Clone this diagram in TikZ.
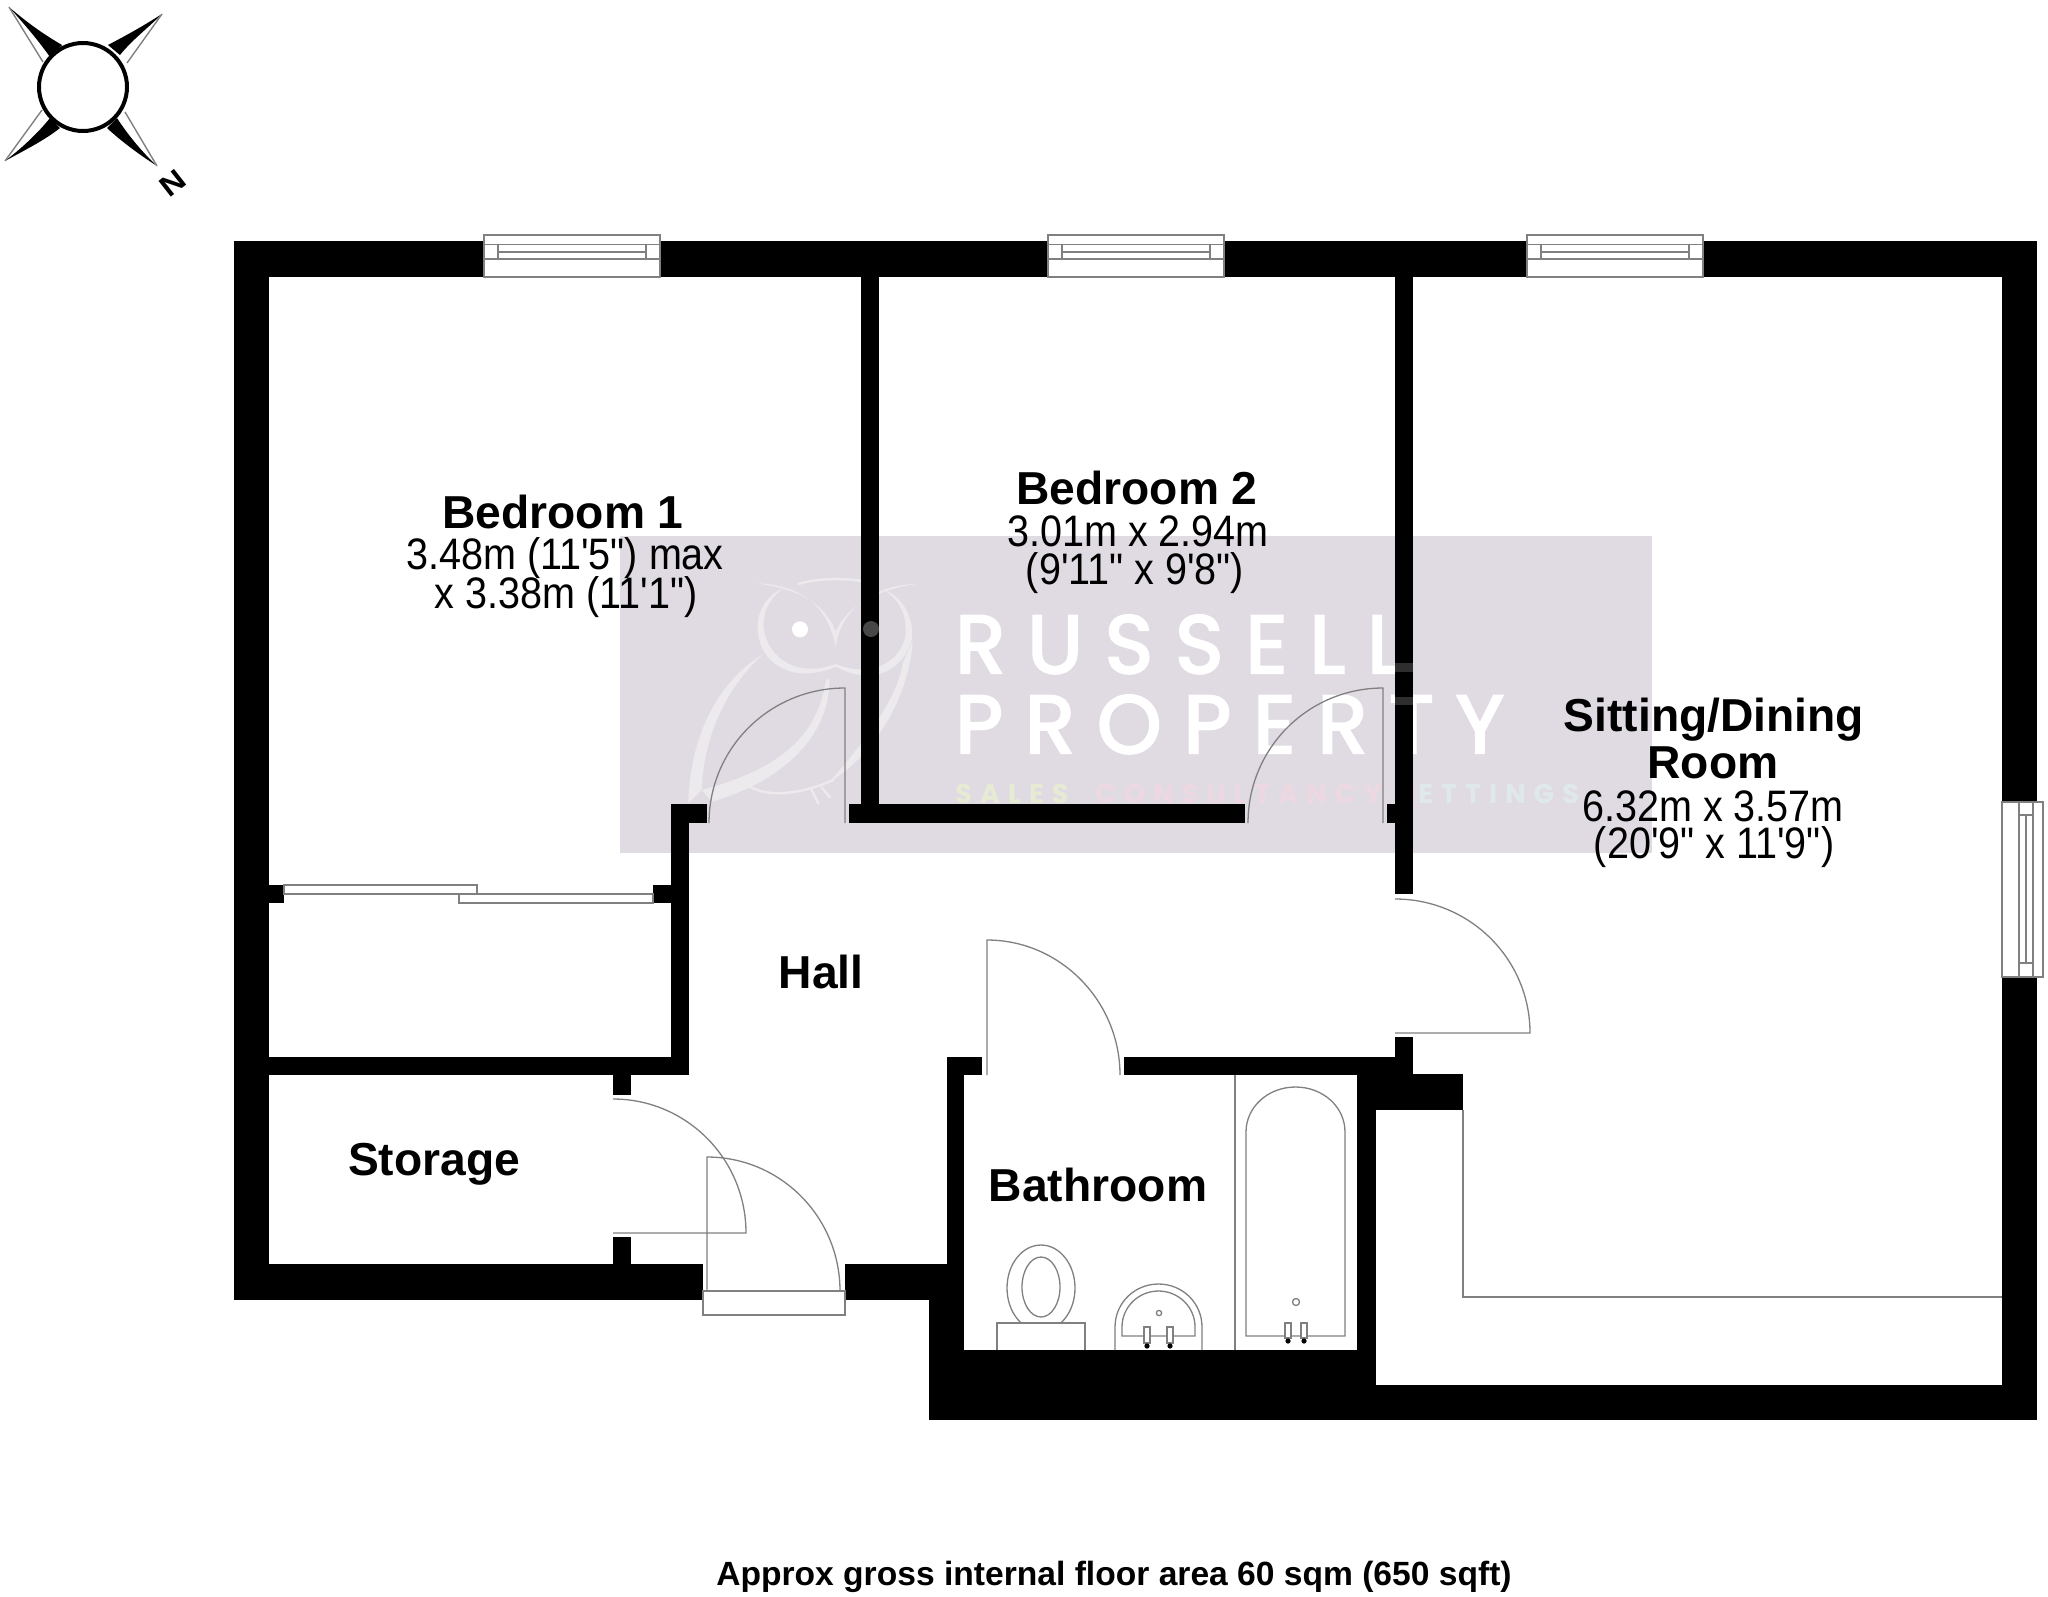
\documentclass[tikz,border=0pt]{standalone}
\usepackage{fontspec}
\newfontfamily\labfont{Liberation Sans}
\newfontfamily\wmfont{Poppins}[LetterSpace=27,FakeBold=3]
\newfontfamily\wmsmall{Poppins}[LetterSpace=30]
\definecolor{wmbg}{HTML}{E0DBE2}
\definecolor{owl}{HTML}{ECEAED}
\definecolor{finegrey}{HTML}{808080}
\definecolor{wmyellow}{HTML}{E8EBD3}
\definecolor{wmpink}{HTML}{EDD8E2}
\definecolor{wmcyan}{HTML}{DFE9EC}
\tikzset{
  wall/.style={fill=black,draw=none},
  fine/.style={draw=finegrey,line width=0.65pt},
  fitting/.style={draw=finegrey,line width=0.65pt,fill=white},
  owlstroke/.style={draw=owl,line cap=round,fill=none},
  owlfill/.style={fill=owl,draw=none},
  title/.style={font=\labfont\bfseries\fontsize{23.1}{26}\selectfont,inner sep=0pt},
  dims/.style={font=\labfont\fontsize{20.6}{24}\selectfont,inner sep=0pt,xscale=0.96,yscale=1.07},
  wmbig/.style={font=\wmfont\fontsize{41}{45}\selectfont,text=white,inner sep=0pt,anchor=base west},
  wmtiny/.style={font=\wmsmall\bfseries\fontsize{13.5}{16}\selectfont,inner sep=0pt,anchor=base west},
}
\begin{document}
\begin{tikzpicture}[x=0.5pt,y=-0.5pt]
\path[use as bounding box,fill=white] (0,0) rectangle (2048,1596);

% watermark panel
\fill[wmbg] (620,536) rectangle (1652,853);

% owl (coordinates in 3x crop pixels)
\begin{scope}[shift={(670,560)},x=0.16667pt,y=-0.16667pt]
  \fill[owlfill] (260,70) .. controls (340,72) and (470,100) .. (497,262)
     .. controls (510,150) and (610,75) .. (738,72)
     .. controls (650,85) and (540,120) .. (497,215)
     .. controls (460,120) and (370,85) .. (260,70) -- cycle;
  \draw[owlstroke,line width=1.2pt] (385,72) .. controls (450,52) and (550,52) .. (615,72);
  \fill[owlfill] (340,85) .. controls (280,110) and (255,170) .. (265,225)
     .. controls (275,310) and (370,375) .. (497,320)
     .. controls (600,375) and (695,340) .. (725,240)
     .. controls (735,180) and (700,110) .. (640,88)
     .. controls (690,120) and (715,170) .. (705,235)
     .. controls (680,320) and (590,350) .. (497,312)
     .. controls (400,350) and (310,310) .. (285,225)
     .. controls (270,170) and (295,115) .. (340,85) -- cycle;
  \fill[owlfill] (280,282) .. controls (150,360) and (60,520) .. (55,730)
     -- (95,690) .. controls (100,530) and (170,380) .. (280,282) -- cycle;
  \fill[owlfill] (95,690) .. controls (280,640) and (440,560) .. (468,358)
     -- (478,358) .. controls (480,520) and (350,660) .. (125,725) -- cycle;
  \fill[owlfill] (728,240) .. controls (720,400) and (620,580) .. (480,665)
     .. controls (560,570) and (680,430) .. (698,310) -- cycle;
  \draw[owlstroke,line width=1.2pt] (240,680) .. controls (300,715) and (400,700) .. (490,660);
  \draw[owlstroke,line width=1.2pt] (425,690) -- (445,730) (455,682) -- (480,712);
  \fill[white] (390,208) circle[radius=24];
\end{scope}

% watermark words
\node[wmbig] (wmRussell) at (955,673) {RUSSELL};
\node[wmbig] (wmProperty) at (955,753) {PROPERTY};
\node[wmtiny,text=wmyellow] (wmSales) at (955,803) {SALES};
\node[wmtiny,text=wmpink] (wmConsult) at (1095,803) {CONSULTANCY};
\node[wmtiny,text=wmcyan] (wmLet) at (1397,803) {LETTINGS};

% walls
\fill[wall] (233.5,241) rectangle (2037,277);
\fill[wall] (233.5,241) rectangle (269,1300);
\fill[wall] (2002,241) rectangle (2037,802);
\fill[wall] (2002,977) rectangle (2037,1420);
\fill[wall] (233.5,1264) rectangle (703,1300);
\fill[wall] (845,1264) rectangle (947,1300);
\fill[wall] (269,1057) rectangle (689,1075);
\fill[wall] (671,804) rectangle (689,1075);
\fill[wall] (671,804) rectangle (707,823);
\fill[wall] (860.5,277) rectangle (879,823);
\fill[wall] (849,804) rectangle (1245,823);
\fill[wall] (1395,277) rectangle (1413,894);
\fill[wall] (1387,804) rectangle (1413,823);
\fill[wall] (613,1075) rectangle (631,1095);
\fill[wall] (613,1237) rectangle (631,1264);
\fill[wall] (269,885) rectangle (284,903);
\fill[wall] (653,885) rectangle (671,903);
\fill[wall] (947,1057) rectangle (982,1075);
\fill[wall] (947,1057) rectangle (964,1300);
\fill[wall] (1124,1057) rectangle (1395,1075);
\fill[wall] (1395,1037) rectangle (1413,1075);
\fill[wall] (1357,1057) rectangle (1376,1385);
\fill[wall] (1357,1074) rectangle (1463,1110);
\fill[wall] (929,1264) rectangle (964,1420);
\fill[wall] (929,1350) rectangle (1376,1420);
\fill[wall] (929,1385) rectangle (2037,1420);

% watermark showing faintly through the walls
\fill[black!82] (1395,663) rectangle (1413,672);
\fill[black!82] (1395,697) rectangle (1413,705);
\fill[black!72] (871,629) circle[radius=8];

% top windows
\foreach \xa/\xb in {484/660,1048/1224,1527/1703}{
  \fill[white] (\xa,235) rectangle (\xb,277);
  \draw[fine] (\xa,277) -- (\xa,235) -- (\xb,235) -- (\xb,277) -- cycle;
  \draw[fine] (\xa,244.5) -- (\xb,244.5) (\xa,259) -- (\xb,259);
  \draw[fine] (\xa+14,244.5) -- (\xa+14,259) (\xb-14,244.5) -- (\xb-14,259);
  \draw[fine] (\xa+14,252) -- (\xb-14,252);
}
% side window
\fill[white] (2002,802) rectangle (2043,977);
\draw[fine] (2002,802) rectangle (2043,977);
\draw[fine] (2019,802) -- (2019,977) (2033,802) -- (2033,977);
\draw[fine] (2019,815) -- (2033,815) (2019,963) -- (2033,963);
\draw[fine] (2026,815) -- (2026,963);

% wardrobe sliders
\draw[fitting] (284,885) rectangle (477,894);
\draw[fitting] (459,894) rectangle (653,903);

% doors
\draw[fine] (845,823) -- (845,688) .. controls (770,688) and (709,748) .. (709,823);
\draw[fine] (1383,823) -- (1383,688) .. controls (1308.4,688) and (1248,748) .. (1248,823);
\draw[fine] (1395,899) .. controls (1469.6,899) and (1530,959) .. (1530,1033) -- (1395,1033);
\draw[fine] (987,1075) -- (987,940) .. controls (1060.5,940) and (1120,1001.5) .. (1120,1075);
\draw[fine] (613,1099) .. controls (686.5,1099) and (746,1159) .. (746,1233) -- (613,1233);
\draw[fitting] (703,1291) rectangle (845,1315);
\draw[fine] (707,1291) -- (707,1157) .. controls (780.5,1157) and (840,1217) .. (840,1291);

% lower sitting room line
\draw[fine] (1463,1110) -- (1463,1297) -- (2002,1297);

% bathroom fittings
\draw[fine] (1235,1075) -- (1235,1350);
\draw[fine] (1246,1336) -- (1246,1132) .. controls (1246,1107) and (1268,1087) .. (1295.5,1087)
   .. controls (1323,1087) and (1345,1107) .. (1345,1132) -- (1345,1336) -- cycle;
\draw[fine] (1296,1302) circle[radius=3.5];
\foreach \x in {1288,1304}{
  \draw[fitting] (\x-3,1323) rectangle (\x+3,1338);
  \fill[black] (\x,1341) circle[radius=2.6];
}
\draw[fine] (1041,1288) circle[x radius=34,y radius=43];
\draw[fine] (1041,1287) circle[x radius=19,y radius=30];
\draw[fitting] (997,1350) -- (997,1323) -- (1085,1323) -- (1085,1350);
\fill[white] (998,1324) rectangle (1084,1350);
\draw[fine] (1115,1350) -- (1115,1327) .. controls (1115,1303) and (1134.5,1284) .. (1158.5,1284)
   .. controls (1182.5,1284) and (1202,1303) .. (1202,1327) -- (1202,1350);
\draw[fine] (1122,1336) -- (1122,1327) .. controls (1122,1307) and (1138.5,1291) .. (1158.5,1291)
   .. controls (1178.5,1291) and (1195,1307) .. (1195,1327) -- (1195,1336) -- cycle;
\draw[fine] (1159,1313) circle[radius=2.6];
\foreach \x in {1147,1170}{
  \draw[fitting] (\x-3,1327) rectangle (\x+3,1343);
  \fill[black] (\x,1346) circle[radius=2.6];
}

% compass
\draw[black,line width=2pt,fill=white] (83,87) circle[radius=44];
\fill[black] (9,7) .. controls (30,25) and (45,35) .. (62,45) -- (50,57) .. controls (38,40) and (25,25) .. (9,7) -- cycle;
\fill[black] (162,14) .. controls (140,28) and (125,36) .. (108,45) -- (120,55) .. controls (132,40) and (148,28) .. (162,14) -- cycle;
\fill[black] (5,161) .. controls (25,150) and (45,140) .. (60,128) -- (50,118) .. controls (38,133) and (22,148) .. (5,161) -- cycle;
\fill[black] (157,166) .. controls (140,155) and (122,142) .. (107,128) -- (117,118) .. controls (128,135) and (142,152) .. (157,166) -- cycle;
\draw[finegrey,line width=0.7pt] (9,7) -- (43,62) (162,14) -- (127,63) (5,161) -- (42,110) (157,166) -- (125,112);
\node[font=\labfont\bfseries\fontsize{14.5}{16}\selectfont,rotate=38,xscale=1.15,inner sep=0pt] (north) at (173,183) {N};

% labels
\node[title] (bed1) at (563,512) {Bedroom 1};
\node[dims] (bed1a) at (565,558) {3.48m (11'5") max};
\node[dims] (bed1b) at (566,597) {x 3.38m (11'1")};
\node[title] (bed2) at (1137,488) {Bedroom 2};
\node[dims] (bed2a) at (1138,531) {3.01m x 2.94m};
\node[dims] (bed2b) at (1135,573) {(9'11" x 9'8")};
\node[title] (sit) at (1714,720) {Sitting/Dining};
\node[title] (sitb) at (1713,763) {Room};
\node[dims] (sita) at (1713,806) {6.32m x 3.57m};
\node[dims] (sitc) at (1714,847) {(20'9" x 11'9")};
\node[title] (hall) at (821,972) {Hall};
\node[title] (store) at (434,1164) {Storage};
\node[title] (bath) at (1098,1185) {Bathroom};
\node[font=\labfont\bfseries\fontsize{16.8}{19}\selectfont,inner sep=0pt] (area) at (1114,1577) {Approx gross internal floor area 60 sqm (650 sqft)};
\end{tikzpicture}
\end{document}
